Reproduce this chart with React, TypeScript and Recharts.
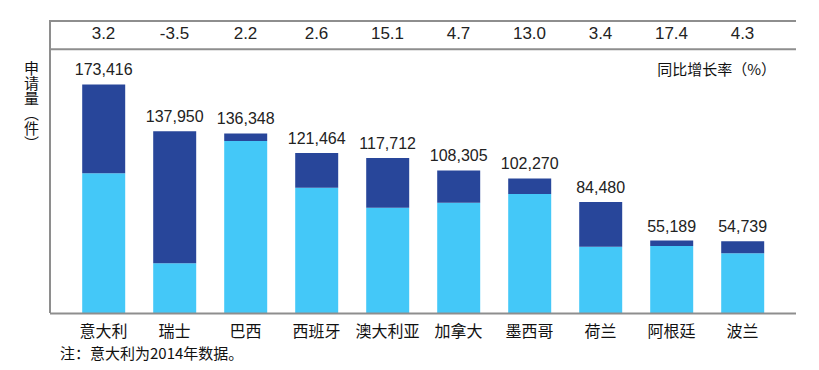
import React from 'react'
import { BarChart, Bar, XAxis, YAxis, LabelList } from 'recharts'

const countries = ['意大利', '瑞士', '巴西', '西班牙', '澳大利亚', '加拿大', '墨西哥', '荷兰', '阿根廷', '波兰']
const totals = [173416, 137950, 136348, 121464, 117712, 108305, 102270, 84480, 55189, 54739]
const lightPart = [106100, 38000, 130600, 95200, 80100, 83900, 90500, 50600, 51100, 45600]
const growth = ['3.2', '-3.5', '2.2', '2.6', '15.1', '4.7', '13.0', '3.4', '17.4', '4.3']

const data = countries.map((name, i) => ({
  name,
  growth: growth[i],
  total: totals[i],
  light: lightPart[i],
  dark: totals[i] - lightPart[i],
}))

const LIGHT = '#44C8F8'
const DARK = '#28469A'
const LINE = '#8E8E8E'
const NUM_FONT = '"Liberation Sans", Arial, sans-serif'
const CJK_FONT = '"Noto Sans CJK SC", sans-serif'

const BottomTick = (props: any) => {
  const { x, y, payload } = props
  return (
    <text x={x} y={y} dy={21} textAnchor="middle" fontSize={16} fontFamily={CJK_FONT} fill="#111">
      {payload.value}
    </text>
  )
}

const TopTick = (props: any) => {
  const { x, y, payload } = props
  return (
    <text x={x} y={y} dy={-8} textAnchor="middle" fontSize={17} fontFamily={NUM_FONT} fill="#222">
      {payload.value}
    </text>
  )
}

export default function App() {
  return (
    <div style={{ position: 'absolute', left: 0, top: 0, width: 819, height: 370, background: '#fff' }}>
      <div
        style={{
          position: 'absolute',
          left: 49,
          top: 20,
          width: 747,
          height: 293,
          borderTop: `2px solid ${LINE}`,
          borderLeft: `2px solid ${LINE}`,
          boxSizing: 'border-box',
        }}
      />
      <BarChart
        width={819}
        height={370}
        data={data}
        margin={{ top: 21, right: 23, bottom: 26.5, left: 50 }}
        barCategoryGap="20%"
      >
        <XAxis
          xAxisId="top"
          orientation="top"
          dataKey="growth"
          height={28.3}
          padding={{ left: 18, right: 18 }}
          axisLine={{ stroke: LINE, strokeWidth: 2 }}
          tickLine={false}
          tickSize={0}
          tick={<TopTick />}
          interval={0}
        />
        <XAxis
          dataKey="name"
          height={30}
          padding={{ left: 18, right: 18 }}
          axisLine={{ stroke: LINE, strokeWidth: 2 }}
          tickLine={false}
          tickSize={0}
          tick={<BottomTick />}
          interval={0}
        />
        <YAxis hide domain={[0, 200000]} />
        <Bar dataKey="light" stackId="a" fill={LIGHT} isAnimationActive={false} />
        <Bar dataKey="dark" stackId="a" fill={DARK} isAnimationActive={false}>
          <LabelList
            dataKey="total"
            position="top"
            offset={9}
            fontSize={16}
            fontFamily={NUM_FONT}
            fill="#222"
            formatter={(v: any) => Number(v).toLocaleString('en-US')}
          />
        </Bar>
      </BarChart>
      <div
        style={{
          position: 'absolute',
          left: 23,
          top: 61,
          writingMode: 'vertical-rl',
          fontSize: 15,
          fontFamily: CJK_FONT,
          color: '#111',
          lineHeight: '16px',
        }}
      >
        申请量（件）
      </div>
      <div
        style={{
          position: 'absolute',
          right: 819 - 776,
          top: 59,
          fontSize: 15,
          fontFamily: CJK_FONT,
          color: '#111',
          lineHeight: '20px',
        }}
      >
        同比增长率（%）
      </div>
      <div
        style={{
          position: 'absolute',
          left: 60,
          top: 343,
          fontSize: 15,
          fontFamily: CJK_FONT,
          color: '#111',
          lineHeight: '20px',
        }}
      >
        注：意大利为2014年数据。
      </div>
    </div>
  )
}
